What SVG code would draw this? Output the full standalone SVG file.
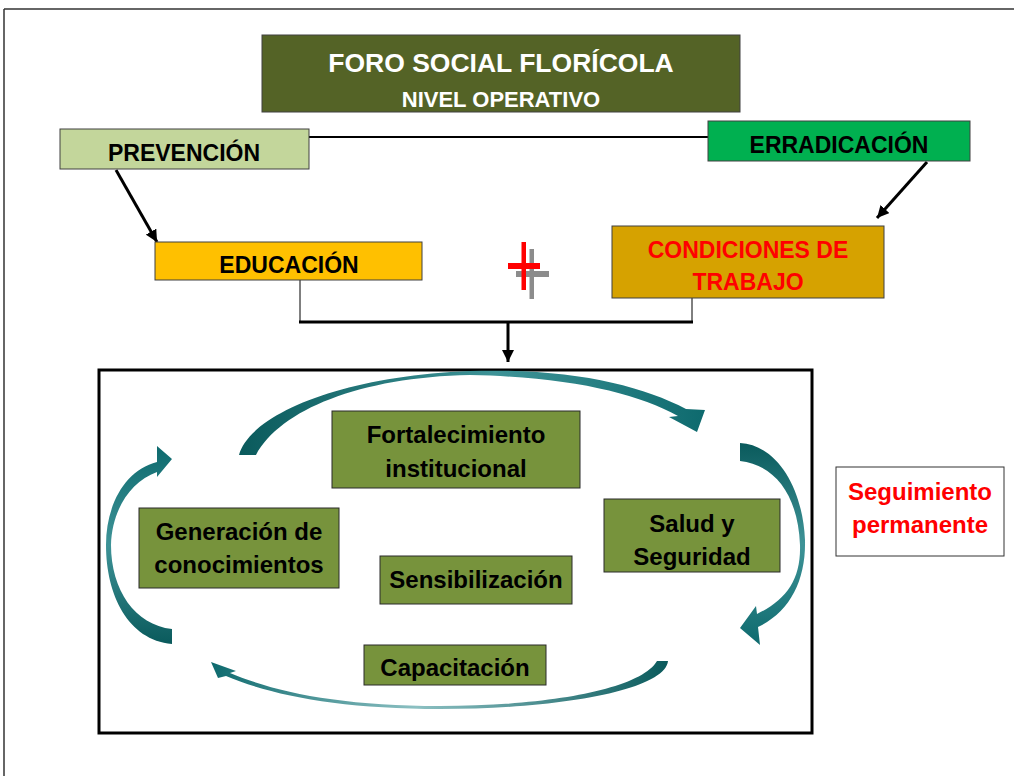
<svg xmlns="http://www.w3.org/2000/svg" width="1014" height="776" viewBox="0 0 1014 776">
<defs>
<style>
.t{font-family:"Liberation Sans",Arial,sans-serif;font-weight:bold;text-anchor:middle}
.box{stroke:#404040;stroke-width:1}
.inner{fill:#77933C;stroke:#2a2a2a;stroke-width:1}
.it{font-size:24px;fill:#000}
.ct{font-size:23px;fill:#000}
.con{stroke:#000;fill:none}
</style>
<marker id="ah" viewBox="0 0 12 12" refX="12" refY="6" markerWidth="12" markerHeight="12" markerUnits="userSpaceOnUse" orient="auto">
<path d="M0,0 L12,6 L0,12 Z" fill="#000"/>
</marker>
<linearGradient id="gTop" x1="0" y1="0" x2="1" y2="0">
<stop offset="0" stop-color="#0A5A5C"/><stop offset="0.55" stop-color="#3E9397"/><stop offset="1" stop-color="#0E6A6E"/>
</linearGradient>
<linearGradient id="gRight" x1="0" y1="0" x2="0" y2="1">
<stop offset="0" stop-color="#0A5A5C"/><stop offset="0.5" stop-color="#3E9397"/><stop offset="1" stop-color="#0E6A6E"/>
</linearGradient>
<linearGradient id="gBot" x1="1" y1="0" x2="0" y2="0">
<stop offset="0" stop-color="#0A5A5C"/><stop offset="0.55" stop-color="#8CC0C2"/><stop offset="1" stop-color="#0E6A6E"/>
</linearGradient>
<linearGradient id="gLeft" x1="0" y1="1" x2="0" y2="0">
<stop offset="0" stop-color="#0A5A5C"/><stop offset="0.5" stop-color="#3E9397"/><stop offset="1" stop-color="#0E6A6E"/>
</linearGradient>
</defs>
<rect width="1014" height="776" fill="#fff"/>
<g id="frame" stroke="#333" stroke-width="1.5" fill="none">
<line x1="4" y1="9" x2="1014" y2="9"/>
<line x1="4" y1="9" x2="4" y2="776"/>
</g>

<g id="connectors">
<line class="con" x1="309" y1="137" x2="718" y2="137" stroke-width="2"/>
<line class="con" x1="116" y1="170" x2="157" y2="242" stroke-width="3" marker-end="url(#ah)"/>
<line class="con" x1="927" y1="162" x2="877" y2="218" stroke-width="3" marker-end="url(#ah)"/>
<line class="con" x1="300" y1="280" x2="300" y2="322" stroke-width="1" stroke="#444"/>
<line class="con" x1="692" y1="298" x2="692" y2="322" stroke-width="1" stroke="#444"/>
<line class="con" x1="299" y1="322" x2="693" y2="322" stroke-width="3"/>
<line class="con" x1="508" y1="322" x2="508" y2="362" stroke-width="3" marker-end="url(#ah)"/>
</g>

<g id="title">
<rect class="box" x="262" y="35" width="478" height="77" fill="#546326"/>
<text class="t" x="501" y="72" font-size="26.5" fill="#fff">FORO SOCIAL FLORÍCOLA</text>
<text class="t" x="501" y="107" font-size="22" fill="#fff">NIVEL OPERATIVO</text>
</g>
<g id="prevencion">
<rect class="box" x="60" y="129" width="249" height="40" fill="#C3D69B"/>
<text class="t ct" x="184" y="161">PREVENCIÓN</text>
</g>
<g id="erradicacion">
<rect class="box" x="708" y="121" width="262" height="40" fill="#00B050"/>
<text class="t ct" x="839" y="153">ERRADICACIÓN</text>
</g>
<g id="educacion">
<rect class="box" x="155" y="242" width="267" height="38" fill="#FFC000"/>
<text class="t ct" x="289" y="273">EDUCACIÓN</text>
</g>
<g id="condiciones">
<rect class="box" x="612" y="226" width="272" height="72" fill="#D6A200"/>
<text class="t" x="748" y="258" font-size="23" fill="#FF0000">CONDICIONES DE</text>
<text class="t" x="748" y="290" font-size="23" fill="#FF0000">TRABAJO</text>
</g>
<g id="plus">
<rect x="529.5" y="249" width="4.5" height="50" fill="#8C8C8C"/>
<rect x="516" y="271" width="33" height="6" fill="#8C8C8C"/>
<rect x="521.5" y="242" width="4.5" height="48" fill="#FF0000"/>
<rect x="508" y="263" width="32" height="6" fill="#FF0000"/>
</g>

<g id="ciclo">
<rect x="99" y="370" width="713" height="363" fill="#fff" stroke="#000" stroke-width="3"/>
<path d="M239,455 C250,415 340,376 470,371 C570,368 640,385 686,409 L705,410 L697,432 L669,417 L678,416 C636,393 570,377 470,375 C360,377 280,410 256,455 Z" fill="url(#gTop)"/>
<path d="M740,443 C778,445 803,490 805,540 C806,580 790,612 758,627 L760,645 L740,628 L756,606 L757,614 C786,600 801,580 800,545 C798,495 775,465 740,461 Z" fill="url(#gRight)"/>
<path d="M668,661 C665,690 560,709 440,709 C340,709 270,695 226,676 L218,678 L211,662 L236,671 L230,673 C275,692 340,706 440,706 C545,706 640,690 657,661 Z" fill="url(#gBot)"/>
<path d="M172,644 C128,640 106,595 106,545 C106,505 125,470 157,462 L157,446 L172,459 L157,477 L157,472 C130,482 112,510 111,545 C111,590 135,625 172,629 Z" fill="url(#gLeft)"/>
</g>

<g id="fortalecimiento">
<rect class="inner" x="332" y="411" width="248" height="77"/>
<text class="t it" x="456" y="443">Fortalecimiento</text>
<text class="t it" x="456" y="477">institucional</text>
</g>
<g id="generacion">
<rect class="inner" x="139" y="508" width="200" height="80"/>
<text class="t it" x="239" y="540">Generación de</text>
<text class="t it" x="239" y="573">conocimientos</text>
</g>
<g id="sensibilizacion">
<rect class="inner" x="380" y="556" width="192" height="48"/>
<text class="t it" x="476" y="588">Sensibilización</text>
</g>
<g id="salud">
<rect class="inner" x="604" y="499" width="176" height="73"/>
<text class="t it" x="692" y="532">Salud y</text>
<text class="t it" x="692" y="565">Seguridad</text>
</g>
<g id="capacitacion">
<rect class="inner" x="364" y="645" width="182" height="40"/>
<text class="t it" x="455" y="676">Capacitación</text>
</g>
<g id="seguimiento">
<rect x="836" y="467" width="168" height="89" fill="#fff" stroke="#333" stroke-width="1"/>
<text class="t" x="920" y="500" font-size="24" fill="#FF0000">Seguimiento</text>
<text class="t" x="920" y="533" font-size="24" fill="#FF0000">permanente</text>
</g>
</svg>
